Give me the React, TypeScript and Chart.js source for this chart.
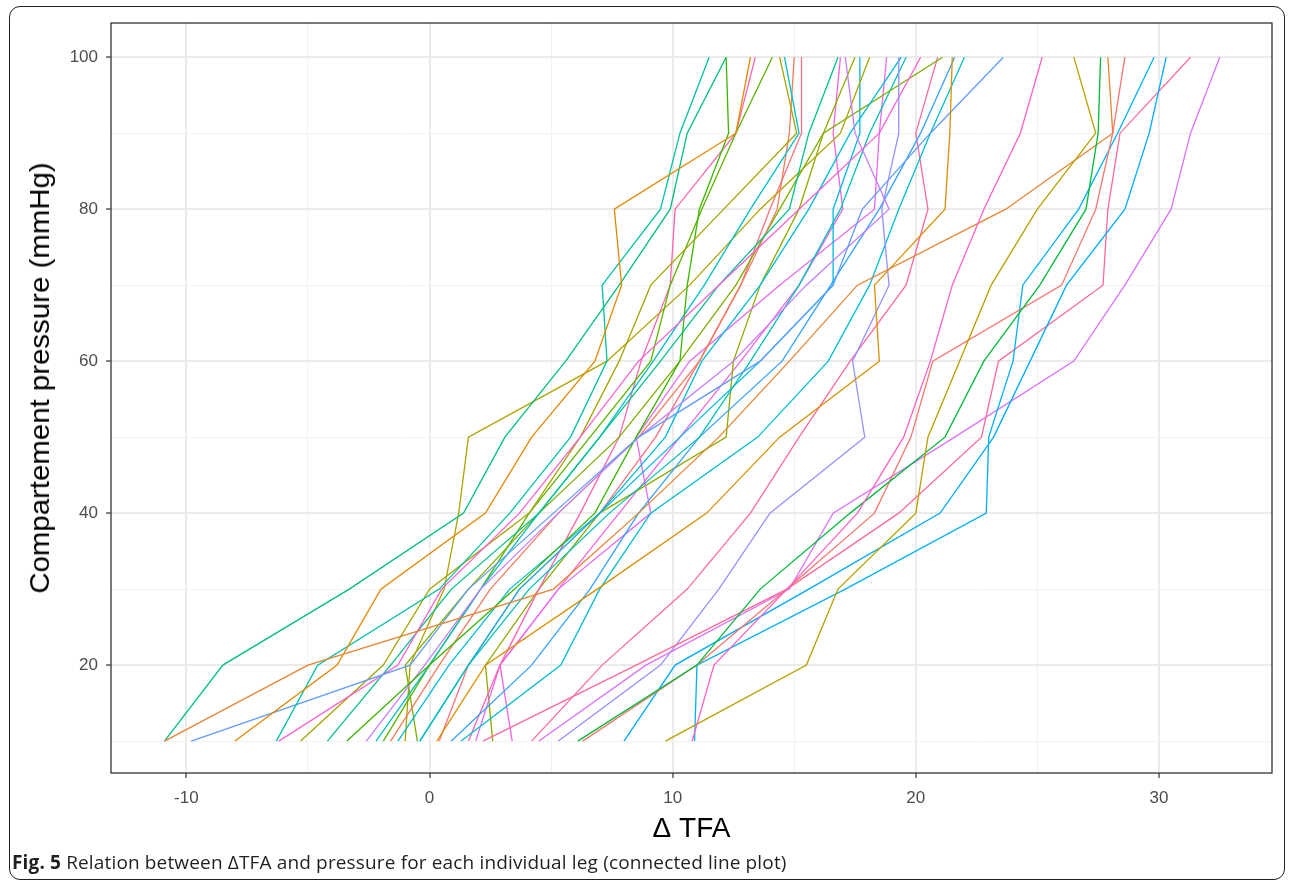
import React, { useEffect, useRef } from 'react';
import { Chart, registerables } from 'chart.js';

Chart.register(...registerables);

// Compartment pressure levels (mmHg) at which ΔTFA was measured
const pressureLevels = [10, 20, 30, 40, 50, 60, 70, 80, 90, 100];

// Axis breaks
const xMajorTicks = [-10, 0, 10, 20, 30];
const xMinorTicks = [-5, 5, 15, 25];
const yMajorTicks = [20, 40, 60, 80, 100];
const yMinorTicks = [10, 30, 50, 70, 90];

// ΔTFA per leg, one value per pressure level (10 → 100 mmHg)
const leg01 = [10.8, 11.7, 14.7, 17.6, 19.5, 20.6, 21.5, 22.8, 24.3, 25.2];
const leg02 = [9.7, 15.5, 16.8, 20.0, 20.5, 21.8, 23.1, 25.0, 27.4, 26.5];
const leg03 = [6.1, 11.0, 13.6, 17.3, 21.2, 22.8, 25.1, 27.0, 27.5, 27.6];
const leg04 = [6.3, 11.0, 14.7, 18.3, 19.8, 20.7, 26.0, 27.4, 28.1, 28.6];
const leg05 = [10.9, 11.0, 17.1, 22.9, 23.0, 24.0, 24.4, 26.7, 28.3, 29.8];
const leg06 = [8.0, 10.1, 15.6, 21.0, 23.2, 24.7, 26.2, 28.6, 29.6, 30.3];
const leg07 = [2.2, 8.5, 14.7, 19.3, 22.7, 23.4, 27.7, 27.9, 28.4, 31.3];
const leg08 = [4.5, 8.9, 14.8, 16.6, 21.6, 26.5, 28.6, 30.5, 31.3, 32.5];
const leg09 = [-10.9, -5.0, 5.1, 8.6, 11.9, 14.8, 17.6, 23.7, 28.1, 27.9];
const leg10 = [0.3, 2.3, 6.9, 11.4, 14.4, 18.5, 18.3, 21.2, 21.4, 21.5];
const leg11 = [-8.0, -3.8, -2.0, 2.3, 4.2, 6.8, 7.9, 7.6, 12.6, 13.2];
const leg12 = [-10.9, -8.5, -3.3, 1.4, 3.1, 5.6, 7.8, 9.9, 10.6, 12.2];
const leg13 = [-6.3, -4.6, 0.4, 3.3, 5.8, 7.3, 7.1, 9.5, 10.3, 11.5];
const leg14 = [5.3, 9.5, 11.9, 14.0, 17.9, 17.4, 18.9, 18.6, 19.3, 19.3];
const leg15 = [-9.8, -0.8, 1.6, 5.1, 8.6, 13.6, 16.6, 17.8, 20.6, 23.6];
const leg16 = [-6.2, -1.3, 0.5, 3.7, 6.2, 8.6, 11.9, 15.2, 18.5, 20.2];
const leg17 = [-5.3, -1.9, 0.0, 4.1, 6.2, 7.8, 9.1, 12.1, 15.1, 14.4];
const leg18 = [-4.2, -1.6, 0.9, 4.5, 7.0, 9.5, 11.9, 14.8, 15.6, 16.8];
const leg19 = [-3.4, 0.0, 3.5, 6.8, 8.5, 10.3, 10.6, 11.1, 12.3, 12.2];
const leg20 = [-2.6, -0.2, 2.1, 5.3, 8.6, 12.5, 15.5, 18.9, 17.5, 17.1];
const leg21 = [-2.2, 0.0, 2.1, 4.5, 7.0, 9.2, 11.3, 13.2, 15.2, 14.6];
const leg22 = [-1.9, 0.0, 2.1, 4.1, 6.6, 9.1, 9.9, 11.2, 12.6, 14.1];
const leg23 = [-1.6, 0.4, 2.5, 5.3, 8.6, 11.1, 12.8, 14.3, 14.8, 15.0];
const leg24 = [-1.3, 0.8, 3.3, 7.0, 9.7, 11.2, 13.6, 15.6, 17.3, 19.4];
const leg25 = [-1.0, -0.8, 0.6, 1.2, 1.6, 7.3, 10.7, 13.6, 16.9, 18.1];
const leg26 = [-0.5, -1.0, 1.6, 4.5, 7.8, 10.3, 12.6, 14.4, 16.2, 21.1];
const leg27 = [-0.4, 1.6, 4.1, 7.4, 11.1, 13.2, 15.2, 16.9, 18.1, 19.6];
const leg28 = [-0.4, 1.6, 3.7, 7.0, 10.3, 13.6, 16.6, 16.6, 17.7, 17.7];
const leg29 = [0.4, 1.6, 3.7, 7.0, 9.3, 11.1, 12.8, 14.0, 15.3, 15.3];
const leg30 = [0.9, 4.2, 6.6, 8.6, 11.1, 14.5, 16.5, 18.5, 20.2, 21.6];
const leg31 = [1.3, 5.4, 7.0, 9.1, 13.5, 16.4, 18.1, 19.3, 20.6, 22.0];
const leg32 = [1.6, 2.9, 4.5, 6.2, 7.8, 8.7, 9.9, 10.1, 12.6, 13.4];
const leg33 = [1.9, 2.9, 5.3, 9.1, 8.5, 10.7, 14.4, 18.3, 18.5, 18.8];
const leg34 = [2.6, 2.3, 4.5, 7.0, 12.2, 12.5, 13.6, 15.2, 16.2, 17.5];
const leg35 = [3.4, 2.9, 5.3, 7.8, 10.3, 12.8, 15.2, 17.0, 16.6, 16.9];
const leg36 = [4.2, 7.1, 10.6, 13.2, 15.2, 17.3, 19.6, 20.5, 20.0, 20.9];

const legs = [
  leg01, leg02, leg03, leg04, leg05, leg06, leg07, leg08, leg09, leg10, leg11, leg12,
  leg13, leg14, leg15, leg16, leg17, leg18, leg19, leg20, leg21, leg22, leg23, leg24,
  leg25, leg26, leg27, leg28, leg29, leg30, leg31, leg32, leg33, leg34, leg35, leg36,
];

const legColors = [
  '#FF61C3', '#B79F00', '#00BA38', '#F8766D', '#00B0F6', '#00ABFD', '#FF6A98', '#DC71FA',
  '#EA8331', '#D89000', '#E58700', '#00BF7D', '#00C1A3', '#9590FF', '#619CFF', '#FB61D7',
  '#A3A500', '#00C08B', '#39B600', '#C77CFF', '#00BFC4', '#5BB300', '#F37B59', '#00BCD8',
  '#AEA200', '#7CAE00', '#00C0B8', '#00B8E7', '#FC717F', '#35A2FF', '#00BDD0', '#FF64B0',
  '#E76BF3', '#8EAB00', '#F564E3', '#FF67A4',
];

const CANVAS_W = 1293;
const CANVAS_H = 850;

const panelBorder = {
  id: 'panelBorder',
  afterDatasetsDraw(chart: any) {
    const { ctx, chartArea } = chart;
    const { left, top, right, bottom } = chartArea;
    ctx.save();
    ctx.strokeStyle = '#333333';
    ctx.lineWidth = 1.3;
    ctx.strokeRect(left, top, right - left, bottom - top);
    ctx.restore();
  },
};

export default function App() {
  const canvasRef = useRef<HTMLCanvasElement | null>(null);

  useEffect(() => {
    if (!canvasRef.current) return;
    const isMajorX = (v: number) => xMajorTicks.includes(v);
    const isMajorY = (v: number) => yMajorTicks.includes(v);

    const chart = new Chart(canvasRef.current, {
      type: 'line',
      data: {
        datasets: legs.map((leg, i) => ({
          label: `Leg ${i + 1}`,
          data: leg.map((x, j) => ({ x, y: pressureLevels[j] })),
          borderColor: legColors[i],
          backgroundColor: legColors[i],
          borderWidth: 1.3,
          pointRadius: 0,
          pointHoverRadius: 0,
          fill: false,
          tension: 0,
        })),
      },
      options: {
        animation: false,
        responsive: false,
        maintainAspectRatio: false,
        devicePixelRatio: 1,
        events: [],
        layout: { padding: { left: 0, top: 23, right: 21, bottom: 0 } },
        plugins: {
          legend: { display: false },
          tooltip: { enabled: false },
          title: { display: false },
        },
        scales: {
          x: {
            type: 'linear',
            min: -13.1,
            max: 34.65,
            afterBuildTicks: (scale: any) => {
              scale.ticks = [...xMinorTicks, ...xMajorTicks]
                .sort((a, b) => a - b)
                .map((v) => ({ value: v }));
            },
            afterFit: (scale: any) => {
              scale.height = 77;
            },
            border: { display: false },
            grid: {
              drawTicks: true,
              tickLength: 5,
              tickWidth: 1.2,
              tickColor: (ctx: any) => (ctx.tick && isMajorX(ctx.tick.value) ? '#333333' : 'rgba(0,0,0,0)'),
              color: (ctx: any) => (ctx.tick && isMajorX(ctx.tick.value) ? '#EBEBEB' : '#F2F2F2'),
              lineWidth: (ctx: any) => (ctx.tick && isMajorX(ctx.tick.value) ? 2 : 1),
            },
            ticks: {
              autoSkip: false,
              maxRotation: 0,
              padding: 10,
              color: '#4D4D4D',
              font: { family: '"Liberation Sans", Arial, sans-serif', size: 17 },
              callback: (v: any) => (isMajorX(Number(v)) ? String(v) : ''),
            },
            title: {
              display: true,
              text: 'Δ TFA',
              color: '#000000',
              font: { family: '"Liberation Sans", Arial, sans-serif', size: 28 },
              padding: { top: 0, bottom: 4 },
            },
          },
          y: {
            type: 'linear',
            min: 5.8,
            max: 104.5,
            afterBuildTicks: (scale: any) => {
              scale.ticks = [...yMinorTicks, ...yMajorTicks]
                .sort((a, b) => a - b)
                .map((v) => ({ value: v }));
            },
            afterFit: (scale: any) => {
              scale.width = 111;
            },
            border: { display: false },
            grid: {
              drawTicks: true,
              tickLength: 5,
              tickWidth: 1.2,
              tickColor: (ctx: any) => (ctx.tick && isMajorY(ctx.tick.value) ? '#333333' : 'rgba(0,0,0,0)'),
              color: (ctx: any) => (ctx.tick && isMajorY(ctx.tick.value) ? '#EBEBEB' : '#F2F2F2'),
              lineWidth: (ctx: any) => (ctx.tick && isMajorY(ctx.tick.value) ? 2 : 1),
            },
            ticks: {
              autoSkip: false,
              padding: 8,
              color: '#4D4D4D',
              font: { family: '"Liberation Sans", Arial, sans-serif', size: 17 },
              callback: (v: any) => (isMajorY(Number(v)) ? String(v) : ''),
            },
            title: { display: false },
          },
        },
      },
      plugins: [panelBorder],
    });
    return () => chart.destroy();
  }, []);

  return (
    <div style={{ position: 'absolute', left: 0, top: 0, width: CANVAS_W, height: 882, background: '#ffffff', overflow: 'hidden' }}>
      <div
        style={{
          position: 'absolute',
          left: 9,
          top: 6,
          width: 1276,
          height: 874,
          border: '1.5px solid #231F20',
          borderRadius: 11,
          boxSizing: 'border-box',
        }}
      />
      <canvas
        ref={canvasRef}
        width={CANVAS_W}
        height={CANVAS_H}
        style={{ position: 'absolute', left: 0, top: 0, width: CANVAS_W, height: CANVAS_H, display: 'block' }}
      />
      <div
        style={{
          position: 'absolute',
          left: 40,
          top: 378,
          transform: 'translate(-50%, -50%) rotate(-90deg) scaleX(1.05)',
          whiteSpace: 'nowrap',
          fontFamily: '"Liberation Sans", Arial, sans-serif',
          fontSize: 28,
          lineHeight: '32px',
          color: '#000000',
        }}
      >
        Compartement pressure (mmHg)
      </div>
      <div
        style={{
          position: 'absolute',
          left: 12,
          top: 849,
          whiteSpace: 'nowrap',
          fontFamily: '"Open Sans", "Noto Sans", sans-serif',
          fontSize: 19,
          letterSpacing: 0.15,
          lineHeight: '26px',
          color: '#231F20',
        }}
      >
        <span style={{ fontWeight: 700 }}>Fig. 5</span> Relation between ΔTFA and pressure for each individual leg (connected line plot)
      </div>
    </div>
  );
}
